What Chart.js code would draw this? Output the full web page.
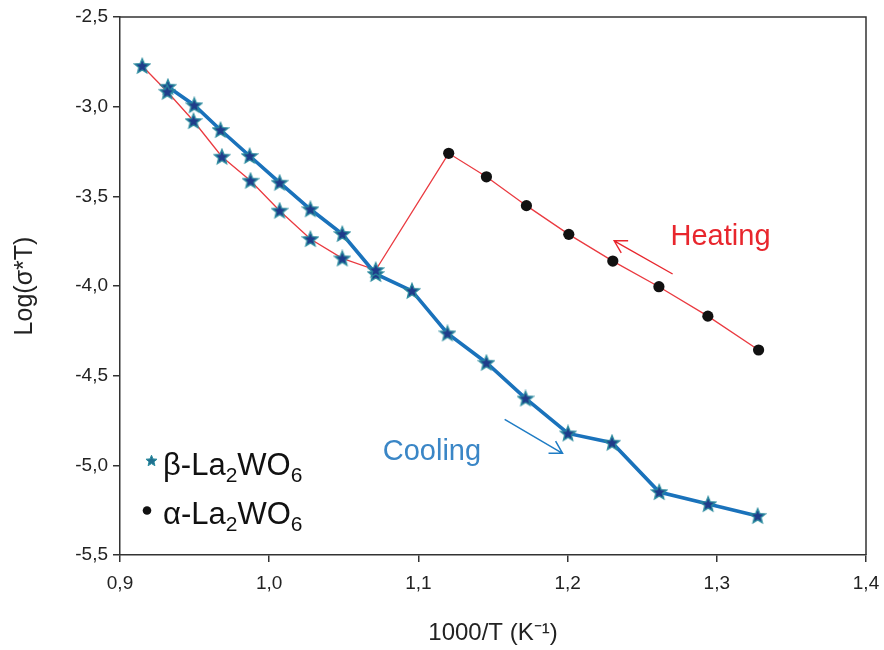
<!DOCTYPE html>
<html>
<head>
<meta charset="utf-8">
<script src="https://cdn.jsdelivr.net/npm/chart.js@4/dist/chart.umd.min.js"></script>
<style>
  html, body { margin: 0; padding: 0; background: #fff; }
  #wrap { width: 884px; height: 650px; position: relative; }
</style>
</head>
<body>
<div id="wrap"><canvas id="arrhenius"></canvas></div>
<script>
// beta-La2WO6, heating branch (lower red curve)
const betaHeatX = [0.9149, 0.9317, 0.9493, 0.9683, 0.9875, 1.0070, 1.0276, 1.0490, 1.0714];
const betaHeatY = [-2.773, -2.917, -3.080, -3.279, -3.413, -3.580, -3.738, -3.846, -3.911];
// beta-La2WO6, cooling branch (blue curve)
const betaCoolX = [0.9321, 0.9498, 0.9674, 0.9869, 1.0070, 1.0276, 1.0490, 1.0714, 1.0957,
                   1.1195, 1.1456, 1.1718, 1.2003, 1.2298, 1.2614, 1.2942, 1.3274];
const betaCoolY = [-2.889, -2.992, -3.130, -3.275, -3.424, -3.572, -3.710, -3.933, -4.027,
                   -4.264, -4.428, -4.627, -4.822, -4.874, -5.149, -5.216, -5.282];
// alpha-La2WO6
const alphaX = [1.1203, 1.1456, 1.1724, 1.2008, 1.2303, 1.2612, 1.2940, 1.3280];
const alphaY = [-3.260, -3.391, -3.552, -3.712, -3.861, -4.004, -4.168, -4.357];

const xTicks = [0.9, 1.0, 1.1, 1.2, 1.3, 1.4];
const yTicks = [-2.5, -3.0, -3.5, -4.0, -4.5, -5.0, -5.5];

// annotations: arrow start, arrow tip, label anchor (left, baseline) in data units
const heatArrow = [[1.2704, -3.933], [1.2312, -3.748]];
const heatLabel = [1.2690, -3.772];
const coolArrow = [[1.1578, -4.744], [1.1966, -4.933]];
const coolLabel = [1.0761, -4.971];

const pts = (xs, ys) => xs.map((x, i) => ({ x: x, y: ys[i] }));
const heatingPath = pts(alphaX, alphaY).reverse().concat(pts(betaHeatX, betaHeatY).reverse());

function drawStar(g, cx, cy, R, r, fill, stroke, lw) {
    g.beginPath();
    for (let i = 0; i < 10; i++) {
        const rad = i % 2 ? r : R;
        const a = -Math.PI / 2 + i * Math.PI / 5;
        g.lineTo(cx + rad * Math.cos(a), cy + rad * Math.sin(a));
    }
    g.closePath();
    g.fillStyle = fill;
    g.fill();
    if (stroke) {
        g.strokeStyle = stroke;
        g.lineWidth = lw;
        g.stroke();
    }
}

const starImg = document.createElement('canvas');
starImg.width = 18;
starImg.height = 18;
drawStar(starImg.getContext('2d'), 9, 9.5, 7.8, 3.5, '#1f3c8a', '#2a8a9e', 1.4);

const FONT = "'Liberation Sans', Arial, sans-serif";
const fmt = v => v.toFixed(1).replace('.', ',');

const decor = {
    id: 'decor',
    beforeDatasetsDraw(chart) {
        const { ctx, chartArea: a } = chart;
        ctx.save();
        ctx.strokeStyle = '#333';
        ctx.lineWidth = 1.5;
        ctx.beginPath();
        ctx.moveTo(a.left, a.top);
        ctx.lineTo(a.right, a.top);
        ctx.lineTo(a.right, a.bottom);
        ctx.stroke();
        ctx.restore();
    },
    afterDraw(chart) {
        const { ctx, chartArea: a, scales: { x, y } } = chart;
        const px = p => [x.getPixelForValue(p[0]), y.getPixelForValue(p[1])];

        function arrow(from, to, color, lw) {
            const [x0, y0] = px(from);
            const [x1, y1] = px(to);
            const ang = Math.atan2(y1 - y0, x1 - x0);
            const L = 14, spread = Math.PI / 6;
            ctx.strokeStyle = color;
            ctx.lineWidth = lw;
            ctx.beginPath();
            ctx.moveTo(x0, y0);
            ctx.lineTo(x1, y1);
            ctx.moveTo(x1 - L * Math.cos(ang - spread), y1 - L * Math.sin(ang - spread));
            ctx.lineTo(x1, y1);
            ctx.lineTo(x1 - L * Math.cos(ang + spread), y1 - L * Math.sin(ang + spread));
            ctx.stroke();
        }

        ctx.save();
        arrow(heatArrow[0], heatArrow[1], '#e8262d', 1.4);
        arrow(coolArrow[0], coolArrow[1], '#1f7cc4', 1.5);

        ctx.textBaseline = 'alphabetic';
        ctx.textAlign = 'left';
        ctx.font = '29px ' + FONT;
        ctx.fillStyle = '#e8262d';
        let p = px(heatLabel);
        ctx.fillText('Heating', p[0], p[1]);
        ctx.fillStyle = '#3a86c6';
        p = px(coolLabel);
        ctx.fillText('Cooling', p[0], p[1]);

        // legend with subscripts
        function formula(prefix, x0, base) {
            const parts = [[prefix + '-La', false], ['2', true], ['WO', false], ['6', true]];
            let cx = x0;
            ctx.fillStyle = '#111';
            parts.forEach(([t, sub]) => {
                ctx.font = (sub ? '21px ' : '31px ') + FONT;
                ctx.fillText(t, cx, base + (sub ? 7 : 0));
                cx += ctx.measureText(t).width;
            });
        }
        drawStar(ctx, a.left + 31.5, a.bottom - 94, 5.8, 2.6, '#1f6f8f', '#2a8a9e', 1);
        formula('\u03b2', a.left + 43, a.bottom - 80);
        ctx.fillStyle = '#111';
        ctx.beginPath();
        ctx.arc(a.left + 27, a.bottom - 44.5, 4.3, 0, Math.PI * 2);
        ctx.fill();
        formula('\u03b1', a.left + 43, a.bottom - 31);
        ctx.restore();
    }
};

new Chart(document.getElementById('arrhenius'), {
    type: 'scatter',
    data: {
        datasets: [
            {
                label: '\u03b1-La2WO6',
                data: pts(alphaX, alphaY),
                pointStyle: 'circle',
                pointRadius: 5.6,
                backgroundColor: '#111',
                borderColor: '#111',
                borderWidth: 0
            },
            {
                label: '\u03b2-La2WO6 heating',
                data: pts(betaHeatX, betaHeatY),
                pointStyle: starImg,
                pointRadius: 6
            },
            {
                label: '\u03b2-La2WO6 cooling',
                data: pts(betaCoolX, betaCoolY),
                pointStyle: starImg,
                pointRadius: 6
            },
            {
                label: 'Cooling',
                data: pts(betaCoolX, betaCoolY),
                showLine: true,
                pointRadius: 0,
                borderColor: '#1a72bb',
                borderWidth: 3.6,
                tension: 0
            },
            {
                label: 'Heating',
                data: heatingPath,
                showLine: true,
                pointRadius: 0,
                borderColor: '#ea3a40',
                borderWidth: 1.3,
                tension: 0
            }
        ]
    },
    options: {
        responsive: true,
        maintainAspectRatio: false,
        animation: false,
        layout: { padding: { top: 17, right: 18, left: 0, bottom: 0 } },
        plugins: {
            legend: { display: false },
            tooltip: { enabled: false }
        },
        scales: {
            x: {
                type: 'linear',
                min: 0.9,
                max: 1.4,
                afterFit: s => { s.height = 95; s.paddingLeft = 0; s.paddingRight = 0; },
                afterBuildTicks: s => { s.ticks = xTicks.map(v => ({ value: v })); },
                ticks: {
                    callback: v => fmt(v),
                    color: '#222',
                    padding: 10,
                    maxRotation: 0,
                    font: { family: FONT, size: 19 }
                },
                grid: { drawOnChartArea: false, color: '#333', lineWidth: 1.5, tickLength: 7 },
                border: { color: '#333', width: 1.5 },
                title: {
                    display: true,
                    text: '1000/T (K\u207b\u00b9)',
                    color: '#222',
                    padding: { top: 0, bottom: 2 },
                    font: { family: FONT, size: 24 }
                }
            },
            y: {
                type: 'linear',
                min: -5.5,
                max: -2.5,
                afterFit: s => { s.width = 120; s.paddingTop = 0; s.paddingBottom = 0; },
                afterBuildTicks: s => { s.ticks = yTicks.map(v => ({ value: v })); },
                ticks: {
                    callback: v => fmt(v),
                    color: '#222',
                    padding: 5,
                    font: { family: FONT, size: 19 }
                },
                grid: { drawOnChartArea: false, color: '#333', lineWidth: 1.5, tickLength: 7 },
                border: { color: '#333', width: 1.5 },
                title: {
                    display: true,
                    text: 'Log(\u03c3*T)',
                    color: '#222',
                    padding: { top: 10, bottom: 0 },
                    font: { family: FONT, size: 25 }
                }
            }
        }
    },
    plugins: [decor]
});
</script>
</body>
</html>
